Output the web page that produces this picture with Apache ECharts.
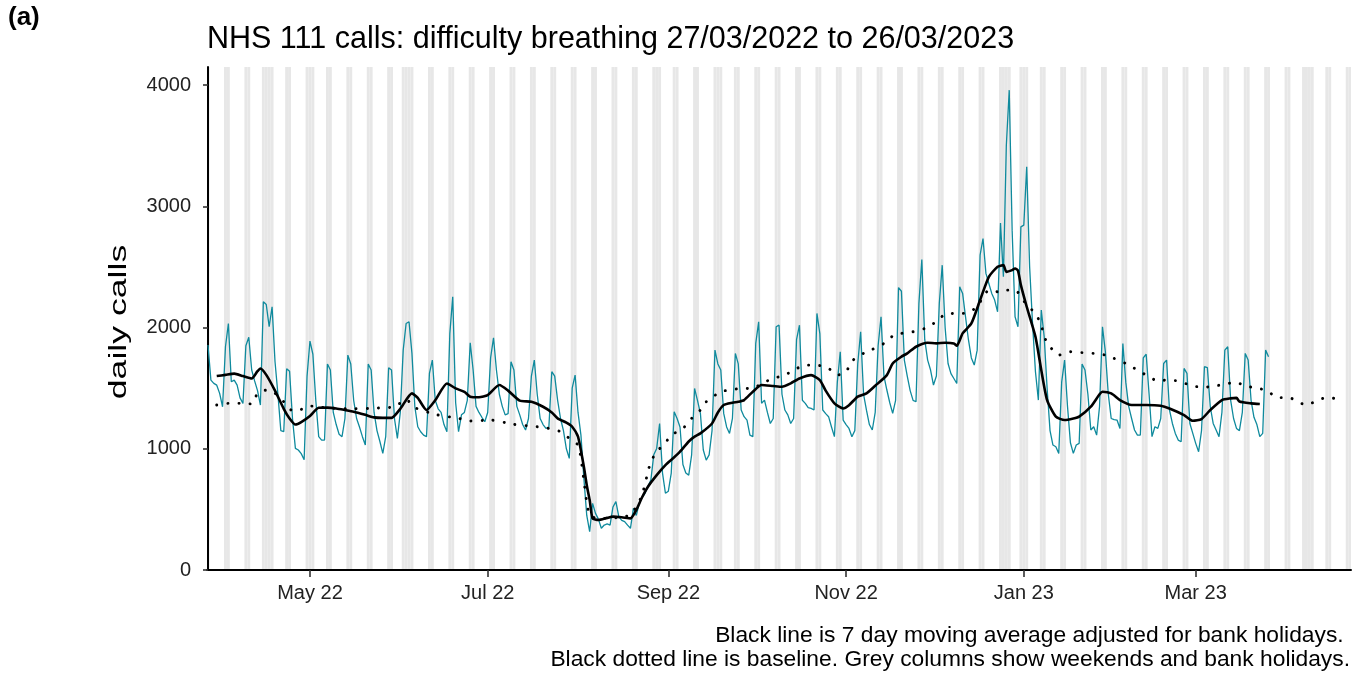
<!DOCTYPE html>
<html><head><meta charset="utf-8">
<script src="https://cdn.jsdelivr.net/npm/echarts@6/dist/echarts.min.js"></script>
<style>html,body{margin:0;padding:0;background:#fff}#c{width:1362px;height:674px}</style>
</head><body><div id="c"></div>
<script>
// ---- data ----
const startDate = '2022-03-27';
const axisEndDate = '2023-04-23';
const dailyCalls = [
1856,
1567,1540,1525,1457,1347,1842,2034,
1553,1567,1525,1420,1375,1850,1920,
1650,1560,1480,1361,2213,2190,2007,
2172,1720,1450,1150,1141,1660,1640,
1250,1003,990,960,910,1600,1889,
1780,1400,1100,1072,1072,1699,1650,
1300,1200,1120,1100,1250,1773,1700,
1400,1250,1180,1100,1031,1699,1650,
1300,1150,1060,962,1100,1669,1650,
1250,1086,1300,1814,2034,2048,1787,
1347,1182,1141,1113,1100,1622,1732,
1400,1330,1300,1200,1141,1950,2254,
1380,1141,1280,1300,1400,1875,1650,
1350,1300,1260,1223,1300,1750,1916,
1650,1450,1350,1280,1290,1718,1650,
1350,1280,1200,1155,1250,1600,1732,
1450,1250,1200,1168,1180,1636,1600,
1400,1250,1150,1000,921,1500,1608,
1300,1113,760,450,316,550,467,
420,344,371,380,371,520,564,
440,410,399,370,344,509,450,
550,600,633,690,742,950,1003,
1209,800,633,650,800,1306,1250,
1180,870,800,783,950,1498,1400,
1292,990,907,950,1150,1814,1700,
1650,1292,1180,1127,1250,1787,1700,
1320,1265,1237,1113,1100,1870,2048,
1375,1402,1300,1209,1250,2007,2020,
1450,1320,1280,1209,1250,1900,2020,
1400,1375,1340,1333,1320,2117,1950,
1320,1290,1265,1180,1100,1550,1801,
1237,1200,1168,1100,1150,1700,1966,
1450,1319,1200,1155,1300,1850,2089,
1600,1485,1380,1292,1400,2330,2300,
1732,1600,1480,1400,1388,2200,2562,
1900,1732,1650,1526,1600,2200,2515,
2000,1704,1620,1580,1539,2337,2282,
2089,1900,1750,1691,1814,2598,2735,
2447,2364,2282,2227,2130,2862,2420,
3500,3959,2800,2089,2007,2831,2845,
3326,2502,2034,1636,1402,2144,1924,
1500,1150,1031,1017,962,1550,1732,
1350,1050,962,1031,1045,1700,1650,
1450,1155,1182,1113,1350,2007,1800,
1450,1250,1240,1237,1168,1869,1550,
1350,1250,1155,1113,1113,1750,1780,
1450,1100,1182,1168,1250,1704,1732,
1320,1209,1127,1072,1058,1663,1622,
1209,1127,1045,976,1150,1677,1670,
1347,1209,1155,1100,1300,1814,1842,
1400,1250,1168,1150,1300,1787,1732,
1400,1260,1200,1100,1127,1814,1760
];
// 7 day moving average: day index (from startDate) and value
const maDays = [3,6,9,12,15,17,18,20,23,26,28,30,32,35,38,41,44,47,50,54,57,60,63,66,70,72,75,78,82,85,88,90,93,96,100,103,107,111,115,118,120,123,125,127,129,130,131,132,134,137,139,142,145,147,149,151,154,157,160,162,165,167,169,173,175,177,180,182,184,187,190,194,197,200,203,207,210,212,215,218,220,223,226,229,233,235,238,240,243,247,250,253,256,257,259,262,265,268,271,273,274,276,277,278,279,281,284,286,288,291,294,297,299,303,306,307,310,313,317,322,327,330,335,338,341,344,348,351,353,354,358,361];
const maValues = [1600,1610,1620,1600,1580,1640,1663,1610,1480,1330,1250,1200,1220,1270,1339,1340,1333,1320,1306,1280,1259,1255,1255,1330,1457,1420,1320,1400,1539,1498,1470,1430,1425,1443,1526,1480,1397,1388,1347,1300,1251,1215,1182,1100,852,700,577,426,412,430,440,435,426,495,600,687,783,866,930,976,1060,1100,1127,1209,1300,1361,1380,1388,1402,1471,1526,1518,1512,1540,1580,1608,1567,1480,1375,1333,1360,1430,1457,1520,1608,1704,1760,1787,1842,1875,1870,1875,1869,1850,1952,2034,2227,2419,2502,2515,2460,2474,2488,2470,2350,2172,1924,1649,1402,1265,1237,1250,1265,1347,1450,1471,1457,1402,1361,1361,1355,1333,1278,1231,1245,1320,1402,1416,1420,1390,1375,1370];
// baseline: day index and value
const baseDays = [3,7,11,15,17,20,23,26,29,32,35,39,43,50,57,64,68,71,78,86,90,97,105,113,117,121,124,127,128,129,130,131,133,137,143,145,147,149,151,152,154,157,159,163,166,169,171,176,179,183,187,190,194,198,201,205,209,213,216,219,221,225,228,232,235,238,242,246,250,253,257,260,264,266,268,271,274,277,281,284,286,287,289,292,296,300,304,308,311,315,319,322,326,329,333,337,341,345,349,353,356,360,364,367,371,374,377,381,384,388];
const baseValues = [1361,1375,1375,1370,1457,1484,1457,1388,1314,1325,1353,1342,1335,1330,1335,1347,1407,1340,1284,1251,1229,1237,1201,1182,1168,1141,1086,1031,921,740,560,450,430,426,440,454,522,619,809,893,976,1050,1113,1168,1251,1320,1388,1471,1485,1498,1498,1539,1581,1608,1649,1690,1690,1663,1608,1636,1724,1787,1820,1869,1930,1952,1966,1993,2048,2111,2117,2117,2172,2254,2309,2295,2309,2309,2186,2117,2020,1924,1842,1773,1801,1793,1787,1773,1746,1704,1649,1608,1560,1567,1559,1526,1507,1515,1534,1550,1515,1504,1471,1421,1424,1388,1361,1402,1424,1410];
const bankHolidays = ['2022-04-15','2022-04-18','2022-05-02','2022-06-02','2022-06-03','2022-08-29','2022-09-19','2022-12-26','2022-12-27','2023-01-02','2023-04-07','2023-04-10'];
const tickDates = ['2022-05-01','2022-07-01','2022-09-01','2022-11-01','2023-01-01','2023-03-01'];
const tickLabels = ['May 22','Jul 22','Sep 22','Nov 22','Jan 23','Mar 23'];
const yTicks = [0,1000,2000,3000,4000];

// ---- helpers ----
const DAY = 86400000;
function utc(s){ const p = s.split('-').map(Number); return Date.UTC(p[0], p[1]-1, p[2]); }
const t0 = utc(startDate);
function dayIndex(s){ return Math.round((utc(s) - t0) / DAY); }
const lastDay = dayIndex(axisEndDate);
const bhIdx = bankHolidays.map(dayIndex);
const greyDays = [];
for (let i = 0; i <= lastDay; i++) {
  const wd = new Date(t0 + i*DAY).getUTCDay();
  if (wd === 0 || wd === 6 || bhIdx.indexOf(i) >= 0) greyDays.push([i]);
}
const tickIdx = tickDates.map(dayIndex);
const Y_MAX = 4150;

const chart = echarts.init(document.getElementById('c'), null, {renderer:'canvas'});
const FONT = '"Liberation Sans", Arial, Helvetica, sans-serif';
chart.setOption({
  animation: false,
  backgroundColor: '#ffffff',
  title: [
    { text: '(a)', left: 3, top: 0, textStyle: { fontFamily: FONT, fontWeight: 'bold', fontSize: 26, color: '#000' } },
    { text: 'NHS 111 calls: difficulty breathing 27/03/2022 to 26/03/2023', left: 202, top: 19,
      textStyle: { fontFamily: FONT, fontWeight: 'normal', fontSize: 30.5, color: '#000' } }
  ],
  graphic: [
    { type: 'text', x: 120, y: 322, rotation: Math.PI/2, scaleX: 1.62, scaleY: 1.05,
      style: { text: 'daily calls', font: '22px ' + FONT, fill: '#000', align: 'center', verticalAlign: 'middle' } },
    { type: 'text', x: 1350, y: 624,
      style: { text: 'Black line is 7 day moving average adjusted for bank holidays. \nBlack dotted line is baseline. Grey columns show weekends and bank holidays.',
        font: '22.8px ' + FONT, fill: '#000', align: 'right', verticalAlign: 'top', lineHeight: 23.6 } }
  ],
  grid: { left: 207, right: 11, top: 67, bottom: 104, containLabel: false },
  xAxis: {
    type: 'value', min: -0.34, max: lastDay + 0.3,
    splitLine: { show: false },
    axisLine: { show: true, onZero: false, lineStyle: { color: '#000', width: 2 } },
    axisTick: { show: true, length: 7, customValues: tickIdx, lineStyle: { color: '#333', width: 1.6 } },
    axisLabel: { show: true, customValues: tickIdx, margin: 13, fontFamily: FONT, fontSize: 20, color: '#222',
      formatter: function (v) { const k = tickIdx.indexOf(Math.round(v)); return k >= 0 ? tickLabels[k] : ''; } }
  },
  yAxis: {
    type: 'value', min: 0, max: Y_MAX,
    splitLine: { show: false },
    axisLine: { show: true, lineStyle: { color: '#000', width: 2 } },
    axisTick: { show: true, length: 5, customValues: yTicks, lineStyle: { color: '#333', width: 1.6 } },
    axisLabel: { show: true, customValues: yTicks, margin: 16, fontFamily: FONT, fontSize: 20, color: '#222',
      formatter: function (v) { return String(Math.round(v)); } }
  },
  series: [
    {
      type: 'custom', name: 'weekends', z: 0, silent: true,
      data: greyDays,
      encode: { x: 0 },
      renderItem: function (params, api) {
        const d = api.value(0);
        const p0 = api.coord([d - 0.5, Y_MAX]);
        const p1 = api.coord([d + 0.5, 0]);
        const cs = params.coordSys;
        const r = echarts.graphic.clipRectByRect(
          { x: p0[0], y: p0[1], width: p1[0] - p0[0], height: p1[1] - p0[1] },
          { x: cs.x, y: cs.y, width: cs.width, height: cs.height });
        return r && { type: 'rect', shape: r, style: { fill: '#e7e7e7' } };
      }
    },
    {
      type: 'line', name: 'daily calls', z: 2, showSymbol: false, silent: true,
      data: dailyCalls.map(function (v, i) { return [i, v]; }),
      lineStyle: { color: '#0f8a9d', width: 1.3 }
    },
    {
      type: 'line', name: 'baseline', z: 3, showSymbol: false, silent: true, smooth: 0.2,
      data: baseDays.map(function (d, i) { return [d, baseValues[i]]; }),
      lineStyle: { color: '#000', width: 2.9, type: [0.1, 11], cap: 'round' }
    },
    {
      type: 'line', name: 'moving average', z: 4, showSymbol: false, silent: true, smooth: 0.2,
      data: maDays.map(function (d, i) { return [d, maValues[i]]; }),
      lineStyle: { color: '#000', width: 2.6 }
    }
  ]
});
</script></body></html>
